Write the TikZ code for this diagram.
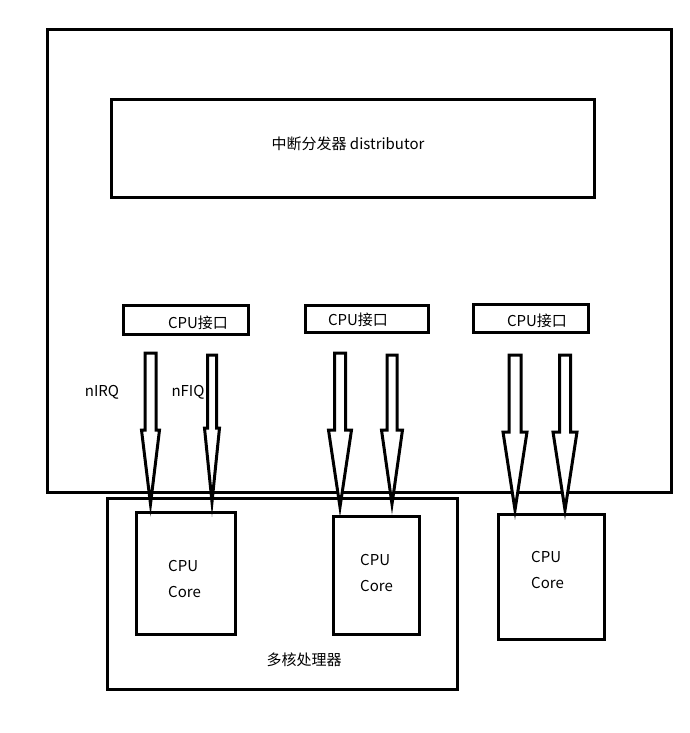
\documentclass[tikz,border=0pt]{standalone}
\usepackage{fontspec}
\setmainfont{Noto Sans CJK SC}
\begin{document}
\begin{tikzpicture}[x=1pt,y=-1pt,
  box/.style={draw,line width=3pt,inner sep=0pt},
  lbl/.style={font=\fontsize{15pt}{18pt}\selectfont,inner sep=0pt},
  corelbl/.style={font=\fontsize{15pt}{26pt}\selectfont,inner sep=0pt,align=left,anchor=west},
  blockarrow/.style={draw,line width=3pt,fill=white}]
\useasboundingbox (0,0) rectangle (690,733);
\newcommand\blkarrow[6]{%
  \draw[blockarrow] (#1-#2,#4) -- (#1-#2,#5) -- (#1-#3,#5) -- (#1,#6) -- (#1+#3,#5) -- (#1+#2,#5) -- (#1+#2,#4) -- cycle;}
% outer GIC box
\node[box,minimum width=624pt,minimum height=462pt] (gic) at (359,261) {};
% distributor
\node[box,minimum width=483pt,minimum height=97pt] (dist) at (352.5,148.5) {};
\node[lbl] (distt) at (348,144) {中断分发器 distributor};
% CPU interfaces
\node[box,minimum width=125pt,minimum height=29pt] (if1) at (185.5,319.5) {};
\node[lbl] (if1t) at (198,323) {CPU接口};
\node[box,minimum width=123pt,minimum height=27pt] (if2) at (366.5,319) {};
\node[lbl] (if2t) at (358,320) {CPU接口};
\node[box,minimum width=115pt,minimum height=28pt] (if3) at (530.5,318) {};
\node[lbl] (if3t) at (537,321) {CPU接口};
% multicore processor
\node[box,minimum width=350pt,minimum height=191pt] (mc) at (282.5,593.5) {};
\node[lbl] (mct) at (304,660) {多核处理器};
% cores
\node[box,minimum width=99pt,minimum height=122pt] (core1) at (185.5,573) {};
\node[corelbl] (core1t) at (168,579) {CPU\\Core};
\node[box,minimum width=86pt,minimum height=118pt] (core2) at (376,575) {};
\node[corelbl] (core2t) at (360,573) {CPU\\Core};
\node[box,minimum width=106pt,minimum height=125pt] (core3) at (551,576.5) {};
\node[corelbl] (core3t) at (531,570) {CPU\\Core};
% signal labels
\node[lbl] (nirq) at (102,392) {nIRQ};
\node[lbl] (nfiq) at (188,392) {nFIQ};
% block arrows
\blkarrow{150.5}{5.5}{9}{353}{430}{504}
\blkarrow{212}{4.5}{7.5}{355}{428}{502}
\blkarrow{340}{5.5}{11.5}{353}{430}{507}
\blkarrow{392}{5}{10.5}{355}{430}{504}
\blkarrow{515}{6}{12}{355}{432}{510}
\blkarrow{565}{5.5}{12}{355}{432}{510}
\end{tikzpicture}
\end{document}
